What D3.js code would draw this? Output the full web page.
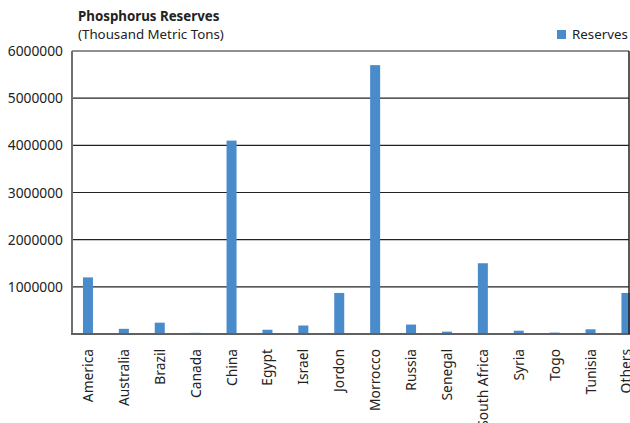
<!DOCTYPE html>
<html>
<head>
<meta charset="utf-8">
<script src="https://cdn.jsdelivr.net/npm/d3@7"></script>
<style>
  body { margin: 0; background: #fff; }
  text { font-family: "Noto Sans", sans-serif; fill: #222; }
</style>
</head>
<body>
<svg width="630" height="423"></svg>
<script>
const countries = ["America", "Australia", "Brazil", "Canada", "China", "Egypt", "Israel", "Jordon",
  "Morrocco", "Russia", "Senegal", "South Africa", "Syria", "Togo", "Tunisia", "Others"];
const reserves = [1200000, 110000, 240000, 25000, 4100000, 90000, 180000, 870000,
  5700000, 200000, 50000, 1500000, 70000, 30000, 100000, 870000];
const yTicks = [1000000, 2000000, 3000000, 4000000, 5000000, 6000000];

const svg = d3.select("svg");
const plotLeft = 72, plotRight = 629, plotTop = 51, plotBottom = 334;

const x = d3.scaleBand()
  .domain(countries)
  .range([plotLeft - 2, plotLeft - 2 + 16 * 35.9]);

const y = d3.scaleLinear()
  .domain([0, 6000000])
  .range([plotBottom, plotTop]);

// gridlines
svg.append("g")
  .selectAll("line")
  .data(yTicks)
  .join("line")
  .attr("x1", plotLeft)
  .attr("x2", plotRight)
  .attr("y1", d => y(d))
  .attr("y2", d => y(d))
  .attr("stroke", "#222")
  .attr("stroke-width", 1.2);

// y labels
svg.append("g")
  .selectAll("text")
  .data(yTicks)
  .join("text")
  .attr("x", 63)
  .attr("y", d => y(d) + 5)
  .attr("text-anchor", "end")
  .style("font-size", "13.8px")
  .text(d => d);

// bars
const barW = 10;
svg.append("g")
  .selectAll("rect")
  .data(countries)
  .join("rect")
  .attr("x", d => x(d) + x.bandwidth() / 2 - barW / 2)
  .attr("y", (d, i) => y(reserves[i]))
  .attr("width", barW)
  .attr("height", (d, i) => plotBottom - y(reserves[i]))
  .attr("fill", "#4a8bcb");

// frame
svg.append("line").attr("x1", plotLeft).attr("x2", plotLeft).attr("y1", plotTop).attr("y2", plotBottom + 1)
  .attr("stroke", "#707070").attr("stroke-width", 2);
svg.append("line").attr("x1", plotLeft - 1).attr("x2", 630).attr("y1", plotBottom).attr("y2", plotBottom)
  .attr("stroke", "#606060").attr("stroke-width", 2);
svg.append("line").attr("x1", plotRight).attr("x2", plotRight).attr("y1", plotTop).attr("y2", plotBottom)
  .attr("stroke", "#222").attr("stroke-width", 1.5);

// x labels
svg.append("g")
  .selectAll("text")
  .data(countries)
  .join("text")
  .attr("transform", d => `translate(${x(d) + x.bandwidth() / 2 + 5},349) rotate(-90)`)
  .attr("text-anchor", "end")
  .style("font-size", "13.8px")
  .text(d => d);

// title
svg.append("text").attr("x", 78).attr("y", 21)
  .style("font-size", "13.3px").style("font-weight", "bold").text("Phosphorus Reserves");
svg.append("text").attr("x", 78).attr("y", 39)
  .style("font-size", "13.3px").text("(Thousand Metric Tons)");

// legend
svg.append("rect").attr("x", 557).attr("y", 30).attr("width", 9).attr("height", 9).attr("fill", "#4a8bcb");
svg.append("text").attr("x", 572).attr("y", 39).style("font-size", "13.3px").text("Reserves");
</script>
</body>
</html>
